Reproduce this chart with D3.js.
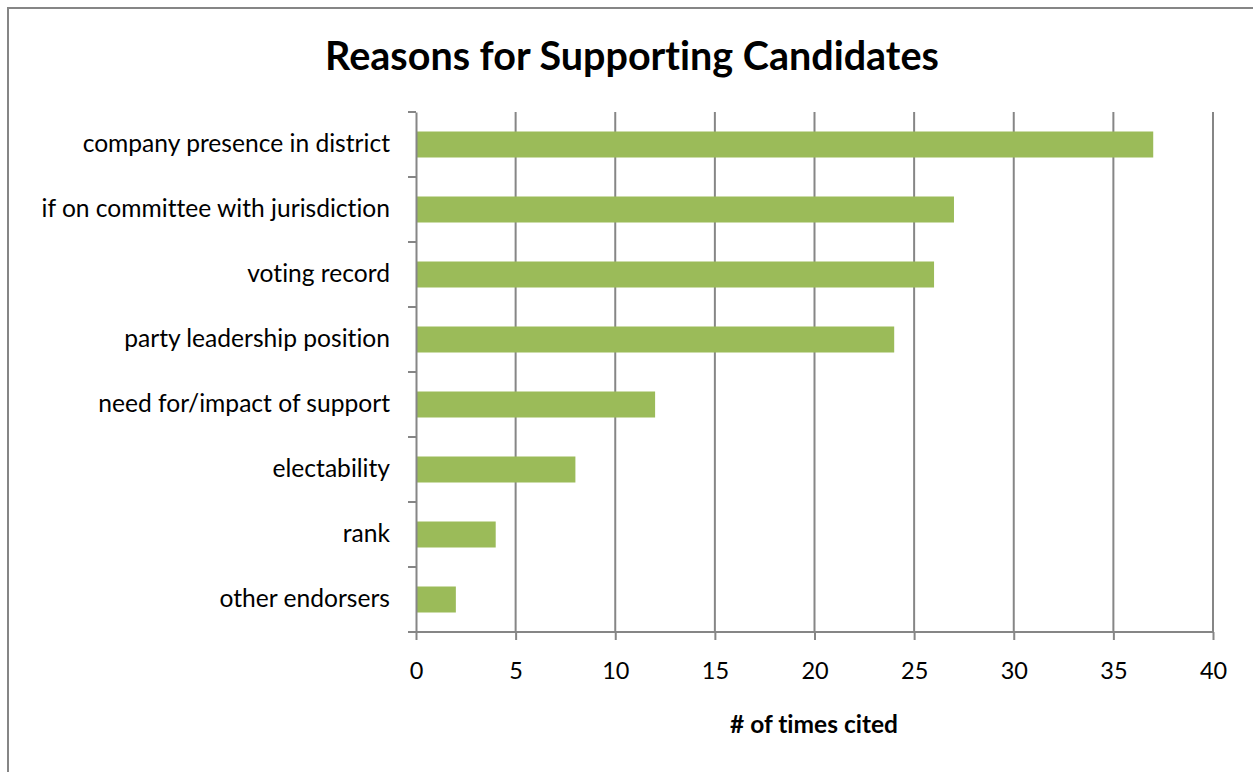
<!DOCTYPE html>
<html>
<head>
<meta charset="utf-8">
<script src="https://cdn.jsdelivr.net/npm/d3@7/dist/d3.min.js"></script>
<style>
  html, body { margin: 0; padding: 0; background: #fff; }
  svg { display: block; }
  text { font-family: Lato, "Open Sans", sans-serif; fill: #000; font-variant-ligatures: none; font-feature-settings: "liga" 0; }
</style>
</head>
<body>
<svg id="chart" width="1253" height="772"></svg>
<script>
// Reasons cited for supporting candidates
const categories = [
  "company presence in district",
  "if on committee with jurisdiction",
  "voting record",
  "party leadership position",
  "need for/impact of support",
  "electability",
  "rank",
  "other endorsers"
];
const timesCited = [37, 27, 26, 24, 12, 8, 4, 2];
const xTicks = [0, 5, 10, 15, 20, 25, 30, 35, 40];

const svg = d3.select("#chart");
const W = 1253, H = 772;
const plot = { left: 416, right: 1213, top: 112, bottom: 632 };
const gridColor = "#868686";
const barColor = "#9BBB59";

// chart frame
svg.append("rect")
  .attr("x", 8).attr("y", 8)
  .attr("width", W + 20).attr("height", H + 20)
  .attr("fill", "#fff")
  .attr("stroke", gridColor).attr("stroke-width", 2);

const x = d3.scaleLinear().domain([0, 40]).range([plot.left, plot.right]);
const y = d3.scaleBand().domain(categories).range([plot.top, plot.bottom]).paddingInner(0.6).paddingOuter(0.3);
const yBands = d3.scaleBand().domain(categories).range([plot.top, plot.bottom]);

// vertical gridlines
svg.append("g")
  .selectAll("line")
  .data(xTicks.slice(1))
  .join("line")
  .attr("x1", d => x(d)).attr("x2", d => x(d))
  .attr("y1", plot.top).attr("y2", plot.bottom)
  .attr("stroke", gridColor).attr("stroke-width", 2);

// bars
svg.append("g")
  .selectAll("rect")
  .data(categories)
  .join("rect")
  .attr("x", x(0))
  .attr("y", d => y(d))
  .attr("width", (d, i) => x(timesCited[i]) - x(0))
  .attr("height", y.bandwidth())
  .attr("fill", barColor);

// category axis (left)
const yAxis = d3.axisLeft(yBands).tickSize(0).tickPadding(26);
const gy = svg.append("g").attr("transform", `translate(${plot.left},0)`).call(yAxis);
gy.select(".domain").attr("stroke", gridColor).attr("stroke-width", 2);
gy.selectAll("text").attr("font-size", 24.6).attr("font-family", "Lato, sans-serif").attr("fill", "#000");
// category boundary ticks
svg.append("g")
  .selectAll("line")
  .data(d3.range(categories.length + 1))
  .join("line")
  .attr("x1", plot.left - 8).attr("x2", plot.left)
  .attr("y1", i => plot.top + i * yBands.step())
  .attr("y2", i => plot.top + i * yBands.step())
  .attr("stroke", gridColor).attr("stroke-width", 2);

// value axis (bottom)
const xAxis = d3.axisBottom(x).tickValues(xTicks).tickSize(8).tickPadding(22);
const gx = svg.append("g").attr("transform", `translate(0,${plot.bottom})`).call(xAxis);
gx.select(".domain").attr("stroke", gridColor).attr("stroke-width", 2)
  .attr("d", `M${plot.left - 8},0H${plot.right}`);
gx.selectAll(".tick line").attr("stroke", gridColor).attr("stroke-width", 2);
gx.selectAll("text").attr("font-size", 23.5).attr("font-family", "Lato, sans-serif").attr("fill", "#000");

// title
svg.append("text")
  .attr("x", 632).attr("y", 70)
  .attr("text-anchor", "middle")
  .attr("font-size", 39.5).attr("font-weight", "bold")
  .text("Reasons for Supporting Candidates");

// axis title
svg.append("text")
  .attr("x", 814).attr("y", 733)
  .attr("text-anchor", "middle")
  .attr("font-size", 24.5).attr("font-weight", "bold")
  .text("# of times cited");
</script>
</body>
</html>
